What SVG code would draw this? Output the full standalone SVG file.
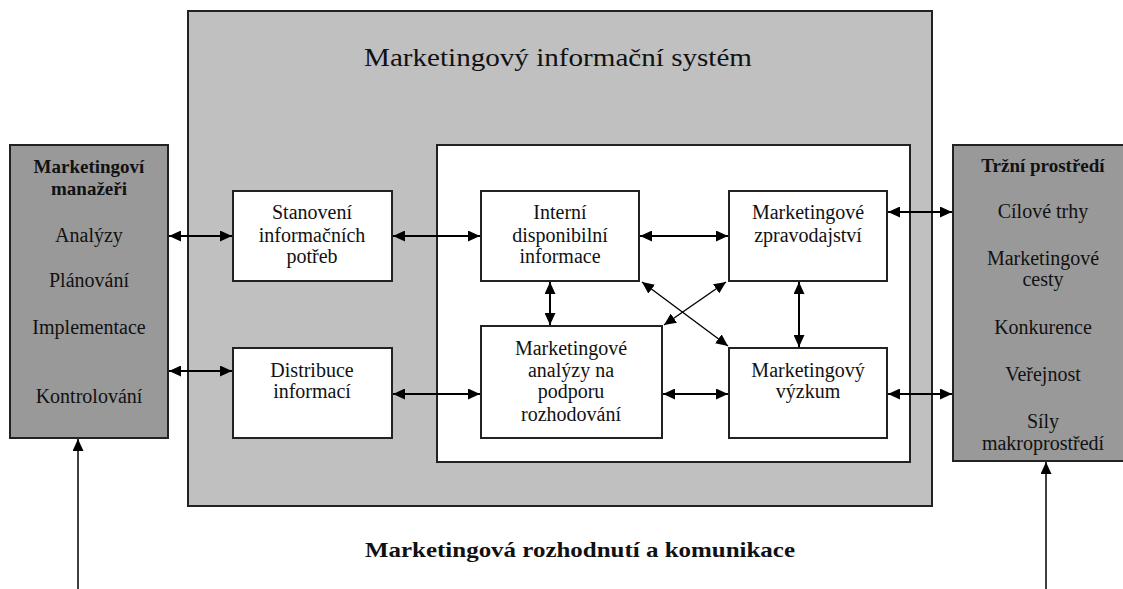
<svg xmlns="http://www.w3.org/2000/svg" width="1123" height="589" viewBox="0 0 1123 589">
  <style>
    .frame { stroke: #222; stroke-width: 2; }
    .outer { fill: #c0c0c0; }
    .inner { fill: #ffffff; }
    .side { fill: #999999; }
    .box { fill: #ffffff; }
    text { font-family: "Liberation Serif", "Times New Roman", serif; fill: #111; text-anchor: middle; }
    .lbl { font-size: 20px; }
    .hd { font-size: 19px; font-weight: bold; }
    .title { font-size: 26px; }
    .foot { font-size: 21px; font-weight: bold; }
    .link { stroke: #000; stroke-width: 2; fill: none; marker-start: url(#head); marker-end: url(#head); }
    .thin { stroke-width: 1.4; }
    .up { stroke: #000; stroke-width: 1.5; fill: none; marker-end: url(#head); }
  </style>
  <defs>
    <marker id="head" viewBox="0 0 12 11" refX="12" refY="5.5" markerWidth="12" markerHeight="11" markerUnits="userSpaceOnUse" orient="auto-start-reverse">
      <path d="M0,0 L12,5.5 L0,11 z" fill="#000"/>
    </marker>
  </defs>

  <rect width="1123" height="589" fill="#ffffff"/>

  <!-- information system container -->
  <g id="mis">
    <rect class="outer frame" x="188" y="11" width="744" height="495"/>
    <text class="title" x="558" y="66" textLength="388" lengthAdjust="spacingAndGlyphs">Marketingový informační systém</text>
    <rect class="inner frame" x="437" y="145" width="473" height="317"/>
  </g>

  <!-- managers -->
  <g id="managers">
    <rect class="side frame" x="10" y="145" width="158" height="293"/>
    <text class="hd" x="89" y="173">Marketingoví</text>
    <text class="hd" x="89" y="195">manažeři</text>
    <text class="lbl" x="89" y="242">Analýzy</text>
    <text class="lbl" x="89" y="287">Plánování</text>
    <text class="lbl" x="89" y="334">Implementace</text>
    <text class="lbl" x="89" y="403">Kontrolování</text>
  </g>

  <!-- market environment -->
  <g id="environment">
    <rect class="side frame" x="953" y="145" width="182" height="316"/>
    <text class="hd" x="1043" y="172">Tržní prostředí</text>
    <text class="lbl" x="1043" y="218">Cílové trhy</text>
    <text class="lbl" x="1043" y="265">Marketingové</text>
    <text class="lbl" x="1043" y="286">cesty</text>
    <text class="lbl" x="1043" y="334">Konkurence</text>
    <text class="lbl" x="1043" y="381">Veřejnost</text>
    <text class="lbl" x="1043" y="428">Síly</text>
    <text class="lbl" x="1043" y="450">makroprostředí</text>
  </g>

  <g id="needs">
    <rect class="box frame" x="233" y="191" width="159" height="90"/>
    <text class="lbl" x="312" y="219">Stanovení</text>
    <text class="lbl" x="312" y="242">informačních</text>
    <text class="lbl" x="312" y="263">potřeb</text>
  </g>

  <g id="distribution">
    <rect class="box frame" x="233" y="348" width="159" height="90"/>
    <text class="lbl" x="312" y="377">Distribuce</text>
    <text class="lbl" x="312" y="398">informací</text>
  </g>

  <g id="internal">
    <rect class="box frame" x="481" y="191" width="158" height="90"/>
    <text class="lbl" x="560" y="219">Interní</text>
    <text class="lbl" x="560" y="242">disponibilní</text>
    <text class="lbl" x="560" y="263">informace</text>
  </g>

  <g id="intelligence">
    <rect class="box frame" x="729" y="191" width="158" height="90"/>
    <text class="lbl" x="808" y="219">Marketingové</text>
    <text class="lbl" x="808" y="242">zpravodajství</text>
  </g>

  <g id="analysis">
    <rect class="box frame" x="481" y="326" width="181" height="112"/>
    <text class="lbl" x="571" y="355">Marketingové</text>
    <text class="lbl" x="571" y="377">analýzy na</text>
    <text class="lbl" x="571" y="398">podporu</text>
    <text class="lbl" x="571" y="421">rozhodování</text>
  </g>

  <g id="research">
    <rect class="box frame" x="729" y="348" width="158" height="90"/>
    <text class="lbl" x="808" y="377">Marketingový</text>
    <text class="lbl" x="808" y="398">výzkum</text>
  </g>

  <text class="foot" x="580" y="557" textLength="430" lengthAdjust="spacingAndGlyphs">Marketingová rozhodnutí a komunikace</text>

  <!-- connectors -->
  <g id="connectors">
    <line class="link" x1="169" y1="236" x2="232" y2="236"/>
    <line class="link" x1="169" y1="371" x2="232" y2="371"/>
    <line class="link" x1="393" y1="236" x2="480" y2="236"/>
    <line class="link" x1="393" y1="394" x2="480" y2="394"/>
    <line class="link" x1="640" y1="236" x2="728" y2="236"/>
    <line class="link" x1="663" y1="394" x2="728" y2="394"/>
    <line class="link" x1="550" y1="282" x2="550" y2="325"/>
    <line class="link" x1="799" y1="282" x2="799" y2="347"/>
    <line class="link thin" x1="642" y1="282" x2="728" y2="346"/>
    <line class="link thin" x1="726" y1="282" x2="664" y2="325"/>
    <line class="link" x1="888" y1="212" x2="952" y2="212"/>
    <line class="link" x1="888" y1="394" x2="952" y2="394"/>
    <line class="up" x1="78" y1="589" x2="78" y2="439"/>
    <line class="up" x1="1046" y1="589" x2="1046" y2="462"/>
  </g>
</svg>
